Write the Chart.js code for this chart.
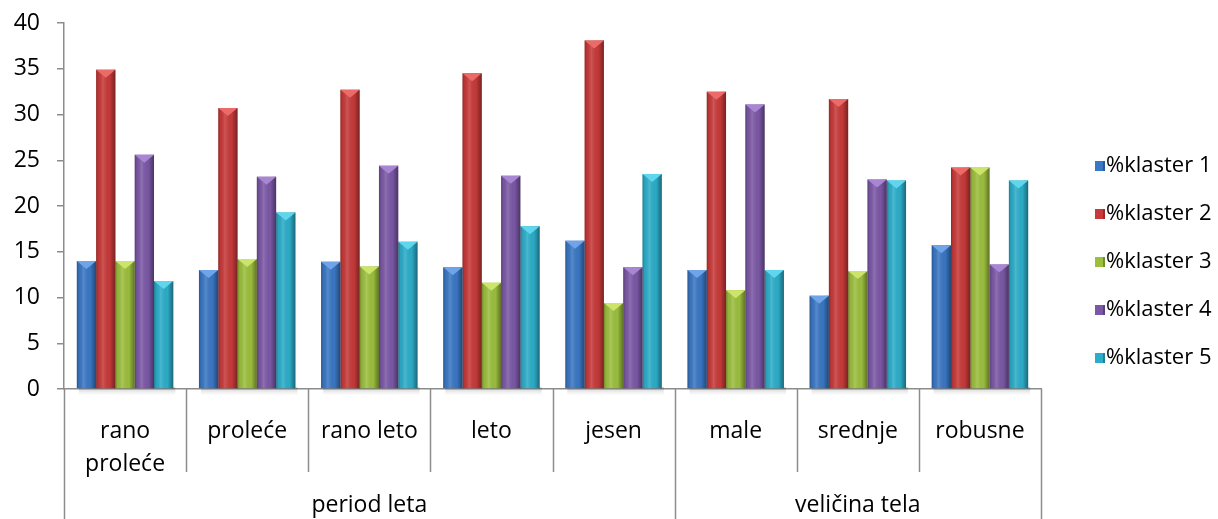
<!DOCTYPE html>
<html>
<head>
<meta charset="utf-8">
<script src="https://cdn.jsdelivr.net/npm/chart.js@4.4.1/dist/chart.umd.min.js"></script>
<style>
  html, body { margin: 0; padding: 0; background: #fff; }
  #wrap { width: 1218px; height: 519px; }
</style>
</head>
<body>
<div id="wrap"><canvas id="klasteri"></canvas></div>
<script>
const categories = [["rano", "proleće"], "proleće", "rano leto", "leto", "jesen", "male", "srednje", "robusne"];
const groups = [
  { label: "period leta", from: 0, to: 4 },
  { label: "veličina tela", from: 5, to: 7 }
];
const yTicks = [0, 5, 10, 15, 20, 25, 30, 35, 40];

const klaster1 = [14.0, 13.0, 13.9, 13.3, 16.2, 13.0, 10.2, 15.7];
const klaster2 = [34.9, 30.7, 32.7, 34.5, 38.1, 32.5, 31.7, 24.2];
const klaster3 = [14.0, 14.2, 13.4, 11.6, 9.4, 10.8, 12.9, 24.2];
const klaster4 = [25.6, 23.2, 24.4, 23.3, 13.3, 31.1, 22.9, 13.6];
const klaster5 = [11.8, 19.3, 16.1, 17.8, 23.5, 13.0, 22.8, 22.8];

const seriesNames = ["%klaster 1", "%klaster 2", "%klaster 3", "%klaster 4", "%klaster 5"];
const seriesColors = ["#3a77c4", "#c73a39", "#9cbf3e", "#7b58a6", "#2cadc9"];
const bevelColors = ["#6fa4e8", "#ec6a68", "#cde46a", "#a886d4", "#5fd6ee"];

const FONT = "'Open Sans', 'Noto Sans', sans-serif";
const FS = 23;
const AXIS = "#8c8c8c";

// extra drawing: shading, bevel tops, category separators, group labels, legend
const excelLook = {
  id: "excelLook",
  beforeDatasetsDraw(chart) {
    // soft shadow under the bars
    const ctx = chart.ctx;
    const area = chart.chartArea;
    ctx.save();
    chart.data.labels.forEach((_, i) => {
      const first = chart.getDatasetMeta(0).data[i];
      const last = chart.getDatasetMeta(chart.data.datasets.length - 1).data[i];
      const l = first.x - first.width / 2, r = last.x + last.width / 2;
      const g = ctx.createLinearGradient(0, area.bottom - 2, 0, area.bottom + 6);
      g.addColorStop(0, "rgba(0,0,0,0.18)");
      g.addColorStop(1, "rgba(0,0,0,0)");
      ctx.fillStyle = g;
      ctx.fillRect(l + 2, area.bottom - 2, r - l, 8);
    });
    ctx.restore();
  },
  afterDatasetsDraw(chart) {
    const ctx = chart.ctx;
    chart.data.datasets.forEach((ds, di) => {
      chart.getDatasetMeta(di).data.forEach(bar => {
        const { x, y, base, width } = bar.getProps(["x", "y", "base", "width"], true);
        const l = x - width / 2, r = x + width / 2;
        const g = ctx.createLinearGradient(l, 0, r, 0);
        g.addColorStop(0, "rgba(0,0,0,0.28)");
        g.addColorStop(0.12, "rgba(0,0,0,0.05)");
        g.addColorStop(0.35, "rgba(255,255,255,0.14)");
        g.addColorStop(0.7, "rgba(0,0,0,0.02)");
        g.addColorStop(1, "rgba(0,0,0,0.4)");
        ctx.save();
        ctx.fillStyle = g;
        ctx.fillRect(l, y, width, base - y);
        // bevelled top
        ctx.beginPath();
        ctx.moveTo(l, y);
        ctx.lineTo(r, y);
        ctx.lineTo(x, y + 8);
        ctx.closePath();
        ctx.fillStyle = bevelColors[di];
        ctx.fill();
        ctx.restore();
      });
    });
  },
  afterDraw(chart) {
    const ctx = chart.ctx;
    const xs = chart.scales.x;
    const area = chart.chartArea;
    const step = (area.right - area.left) / categories.length;
    const groupEdges = new Set();
    groups.forEach(g => { groupEdges.add(g.from); groupEdges.add(g.to + 1); });

    ctx.save();
    ctx.strokeStyle = AXIS;
    ctx.lineWidth = 1.5;
    for (let i = 0; i <= categories.length; i++) {
      const px = Math.round(area.left + i * step) + 0.5;
      ctx.beginPath();
      ctx.moveTo(px, area.bottom);
      ctx.lineTo(px, groupEdges.has(i) ? chart.height : area.bottom + 83);
      ctx.stroke();
    }

    ctx.fillStyle = "#000";
    ctx.font = FS + "px " + FONT;
    ctx.textAlign = "center";
    ctx.textBaseline = "middle";
    groups.forEach(g => {
      const cx = (xs.getPixelForValue(g.from) + xs.getPixelForValue(g.to)) / 2;
      ctx.fillText(g.label, cx, area.bottom + 116);
    });

    // legend
    ctx.textAlign = "left";
    ctx.font = "22px " + FONT;
    const legendY = [166, 214, 262, 310, 358];
    seriesNames.forEach((name, i) => {
      const ly = legendY[i];
      ctx.fillStyle = seriesColors[i];
      ctx.fillRect(1095, ly - 5, 10, 10);
      ctx.fillStyle = "rgba(0,0,0,0.25)";
      ctx.fillRect(1103, ly - 5, 2, 10);
      ctx.fillStyle = "#000";
      ctx.fillText(name, 1106, ly);
    });
    ctx.restore();
  }
};

const makeSet = (label, data, i) => ({
  label: label,
  data: data,
  backgroundColor: seriesColors[i],
  borderWidth: 0,
  categoryPercentage: 0.79,
  barPercentage: 1.0
});

new Chart(document.getElementById("klasteri"), {
  type: "bar",
  data: {
    labels: categories,
    datasets: [
      makeSet(seriesNames[0], klaster1, 0),
      makeSet(seriesNames[1], klaster2, 1),
      makeSet(seriesNames[2], klaster3, 2),
      makeSet(seriesNames[3], klaster4, 3),
      makeSet(seriesNames[4], klaster5, 4)
    ]
  },
  options: {
    responsive: true,
    maintainAspectRatio: false,
    animation: false,
    layout: { padding: { top: 23, right: 177, left: 0, bottom: 0 } },
    plugins: {
      legend: { display: false },
      tooltip: { enabled: false }
    },
    scales: {
      x: {
        grid: { display: false },
        border: { display: true, color: AXIS, width: 1.5 },
        ticks: {
          color: "#000",
          font: { family: FONT, size: FS, lineHeight: 1.43 },
          padding: 18,
          maxRotation: 0,
          autoSkip: false
        },
        afterFit: s => { s.height = 130; s.paddingLeft = 0; s.paddingRight = 0; }
      },
      y: {
        min: 0,
        max: 40,
        afterBuildTicks: s => { s.ticks = yTicks.map(v => ({ value: v })); },
        grid: { drawOnChartArea: false, color: AXIS, tickLength: 7, lineWidth: 1.5 },
        border: { color: AXIS, width: 1.5 },
        ticks: {
          color: "#000",
          font: { family: FONT, size: FS },
          padding: 17
        },
        afterFit: s => { s.width = 64; s.paddingTop = 0; s.paddingBottom = 0; }
      }
    }
  },
  plugins: [excelLook]
});
</script>
</body>
</html>
